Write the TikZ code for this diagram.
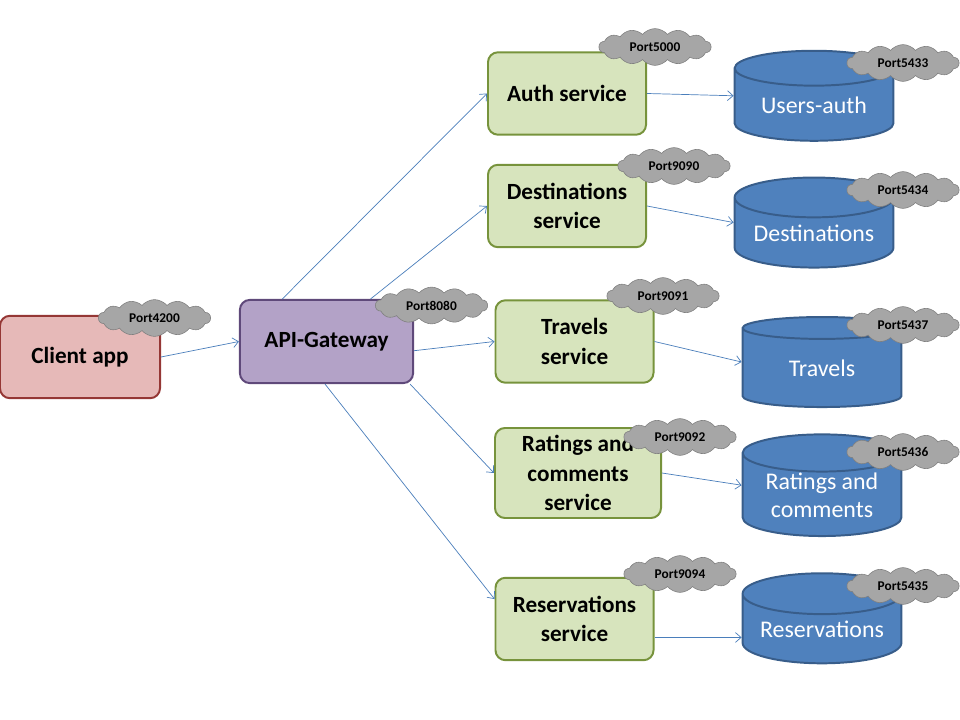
\documentclass[tikz,border=0pt]{standalone}
\usepackage{fontspec}
\setmainfont{Carlito}
\usetikzlibrary{arrows.meta,shapes.geometric,shapes.symbols}

\definecolor{clientfill}{HTML}{E6B9B8}
\definecolor{clientline}{HTML}{953735}
\definecolor{gatefill}{HTML}{B3A2C7}
\definecolor{gateline}{HTML}{5F497A}
\definecolor{svcfill}{HTML}{D7E4BD}
\definecolor{svcline}{HTML}{77933C}
\definecolor{dbfill}{HTML}{4F81BD}
\definecolor{dbline}{HTML}{385D8A}
\definecolor{portfill}{HTML}{A6A6A6}
\definecolor{portline}{HTML}{7F7F7F}
\definecolor{arrline}{HTML}{4A7EBB}

\begin{document}
\begin{tikzpicture}[x=0.025cm, y=-0.025cm,
  box/.style={draw, rounded corners=0.25cm, line width=1.4pt, align=center, inner sep=0pt,
    font=\fontsize{16.5}{21}\selectfont\bfseries, minimum width=3.95cm, minimum height=2.06cm},
  client/.style={box, fill=clientfill, draw=clientline, minimum width=4cm},
  gate/.style={box, fill=gatefill, draw=gateline, minimum width=4.33cm, minimum height=2.08cm},
  svc/.style={box, fill=svcfill, draw=svcline},
  db/.style={draw=dbline, fill=dbfill, line width=1.4pt, cylinder, shape border rotate=90, aspect=0.33,
    minimum width=3.97cm, minimum height=2.25cm, inner sep=0pt, align=center, text=white,
    font=\fontsize{17}{20}\selectfont},
  port/.style={draw=portline, fill=portfill, cloud, cloud puffs=14, cloud puff arc=100, aspect=3.2,
    inner sep=0pt, minimum width=2.8cm, minimum height=0.92cm, font=\fontsize{9.5}{11}\selectfont\bfseries},
  arr/.style={-{Straight Barb[length=4pt,width=7pt]}, draw=arrline, line width=0.5pt}]
  \useasboundingbox (0,0) rectangle (960,720);

  % clients and gateway
  \node[client] (client) at (80,357) {Client app};
  \node[gate] (gw) at (326.5,341.5) {API-Gateway};

  % services
  \node[svc] (auth) at (567,93.5) {Auth service};
  \node[svc] (dest) at (567,206) {Destinations\\service};
  \node[svc] (trav) at (574.5,341.5) {Travels\\service};
  \node[svc, minimum width=4.15cm, minimum height=2.25cm] (rate) at (578,473) {Ratings and\\comments\\service};
  \node[svc] (resv) at (574.5,619) {Reservations\\service};

  % databases
  \node[db] (udb) at (814,105) {Users-auth};
  \node[db] (ddb) at (814,233) {Destinations};
  \node[db] (tdb) at (822,368) {Travels};
  \node[db] (rdb) at (822,495) {Ratings and\\comments};
  \node[db] (vdb) at (822,629) {Reservations};

  \draw[arr] (client.east) -- (gw.west);
  \draw[arr] (gw.136) -- (auth.west);
  \draw[arr] (gw.44) -- (dest.west);
  \draw[arr] (gw.-6) -- (trav.west);
  \draw[arr] (gw.-27) -- (rate.west);
  \draw[arr] (gw.268) -- (resv.166);
  \draw[arr] (auth.east) -- (udb.west |- udb.shape center);
  \draw[arr] (dest.east) -- (ddb.west |- ddb.shape center);
  \draw[arr] (trav.east) -- (tdb.west |- tdb.shape center);
  \draw[arr] (rate.east) -- (rdb.west |- rdb.shape center);
  \draw[arr] (resv.-13) -- (resv.-13 -| vdb.west);

  % ports
  \node[port] (p4200) at (154.5,318) {Port4200};
  \node[port] (p8080) at (431.5,305.5) {Port8080};
  \node[port] (p5000) at (655,47) {Port5000};
  \node[port] (p9090) at (674,166) {Port9090};
  \node[port] (p9091) at (663,296) {Port9091};
  \node[port] (p9092) at (680,437) {Port9092};
  \node[port] (p9094) at (680,574) {Port9094};
  \node[port] (p5433) at (903,63) {Port5433};
  \node[port] (p5434) at (903,190) {Port5434};
  \node[port] (p5437) at (903,325) {Port5437};
  \node[port] (p5436) at (903,452) {Port5436};
  \node[port] (p5435) at (903,586) {Port5435};
\end{tikzpicture}
\end{document}
